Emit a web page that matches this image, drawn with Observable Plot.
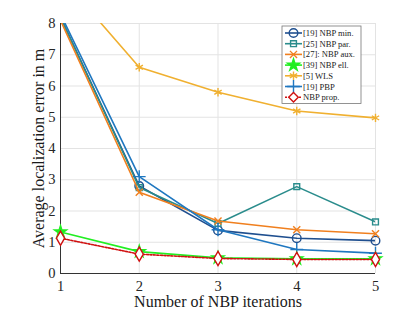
<!DOCTYPE html>
<html><head><meta charset="utf-8">
<script src="https://cdn.jsdelivr.net/npm/d3@7"></script>
<script src="https://cdn.jsdelivr.net/npm/@observablehq/plot@0.6"></script>
<style>
body{margin:0;background:#fff;}
#wrap{position:relative;width:415px;height:312px;}
#legend{position:absolute;left:0;top:0;}
</style></head><body><div id="wrap"></div>
<script>
const iterations = [1, 2, 3, 4, 5];
const seriesNames = ["[19] NBP min.", "[25] NBP par.", "[27]: NBP aux.", "[39] NBP ell.", "[5] WLS", "[19] PBP", "NBP prop."];
const nbpMin  = [8.2, 2.80, 1.38, 1.13, 1.05];
const nbpPar  = [8.2, 2.75, 1.60, 2.78, 1.65];
const nbpAux  = [8.1, 2.60, 1.68, 1.40, 1.27];
const nbpEll  = [1.33, 0.70, 0.50, 0.47, 0.47];
const wls     = [9.5, 6.60, 5.80, 5.20, 4.98];
const pbp     = [8.3, 3.10, 1.40, 0.77, 0.65];
const nbpProp = [1.13, 0.62, 0.48, 0.45, 0.45];
const yTicks = [0, 1, 2, 3, 4, 5, 6, 7, 8];
const xLabel = "Number of NBP iterations";
const yLabel = "Average localization error in m";

const styles = [
  {color: "#1f4f8f", symbol: "circle", dash: null, fill: "none", r: 4.3},
  {color: "#2a8c8c", symbol: "square", dash: null, fill: "none", r: 3.3},
  {color: "#f07f1e", symbol: "times", dash: null, fill: "none", r: 3.3},
  {color: "#22ee22", symbol: "star", dash: null, fill: "#22ee22", r: 3.8},
  {color: "#f0b030", symbol: "asterisk", dash: null, fill: "none", r: 4},
  {color: "#1f77c0", symbol: "plus", dash: null, fill: "none", r: 4.2},
  {color: "#d01010", symbol: "diamond", dash: "2,1.5", fill: "white", r: 4.3}
];
const allValues = [nbpMin, nbpPar, nbpAux, nbpEll, wls, pbp, nbpProp];
const data = allValues.map((vals, i) => iterations.map((x, j) => ({x, y: vals[j], s: seriesNames[i]})));

const serif = "'Liberation Serif', 'Times New Roman', serif";
const marks = [
  Plot.gridX(iterations, {stroke: "#e3e3e3", strokeOpacity: 1}),
  Plot.gridY(yTicks, {stroke: "#e3e3e3", strokeOpacity: 1}),
  Plot.ruleX([1], {stroke: "#333"}),
  Plot.ruleY([0], {stroke: "#333"}),
  Plot.axisX(iterations, {tickSize: 0, tickPadding: 7, fontSize: 14.5, label: null}),
  Plot.axisY(yTicks, {tickSize: 0, tickPadding: 5, fontSize: 14.5, label: null}),
  Plot.text([xLabel], {frameAnchor: "bottom", dy: 33, fontSize: 16, fill: "#1a1a1a", text: d => d}),
  Plot.text([yLabel], {frameAnchor: "left", textAnchor: "middle", dx: -22, rotate: -90, fontSize: 16, fill: "#1a1a1a", text: d => d})
];
const order = [4, 0, 1, 2, 5, 3, 6];
for (const i of order) {
  const st = styles[i];
  marks.push(Plot.line(data[i], {x: "x", y: "y", stroke: st.color, strokeWidth: 1.6, strokeDasharray: st.dash, clip: true}));
  marks.push(Plot.dot(data[i].filter(d => d.y <= 8), {x: "x", y: "y", symbol: () => st.symbol, stroke: st.color, fill: st.fill, r: st.r, strokeWidth: 1.4}));
}

const chart = Plot.plot({
  width: 415, height: 312,
  marginLeft: 60, marginRight: 40, marginTop: 23, marginBottom: 39,
  style: {fontFamily: serif, color: "#262626", background: "white", overflow: "visible"},
  x: {domain: [1, 5]},
  y: {domain: [0, 8]},
  symbol: {type: "identity"},
  marks
});
document.getElementById("wrap").appendChild(chart);

// legend
const lx = 282, ly = 26, lw = 79, rowH = 10.7;
const svg = d3.select("#wrap").append("svg").attr("id", "legend").attr("width", 415).attr("height", 312);
svg.append("rect").attr("x", lx).attr("y", ly).attr("width", lw).attr("height", seriesNames.length * rowH + 2.5)
  .attr("fill", "white").attr("stroke", "#777").attr("stroke-width", 0.8);
const symMap = {circle: d3.symbolCircle, square: d3.symbolSquare, times: d3.symbolTimes, star: d3.symbolStar, asterisk: d3.symbolAsterisk, plus: d3.symbolPlus, diamond: d3.symbolDiamond2};
seriesNames.forEach((name, i) => {
  const st = styles[i];
  const cy = ly + 7 + i * rowH;
  const g = svg.append("g");
  g.append("line").attr("x1", lx + 3).attr("x2", lx + 20).attr("y1", cy).attr("y2", cy)
    .attr("stroke", st.color).attr("stroke-width", 1.6).attr("stroke-dasharray", st.dash);
  const size = Math.PI * st.r * st.r;
  g.append("path").attr("d", d3.symbol(symMap[st.symbol], size)()).attr("transform", `translate(${lx + 11.5},${cy})`)
    .attr("stroke", st.color).attr("fill", st.fill).attr("stroke-width", 1.4);
  g.append("text").attr("x", lx + 21).attr("y", cy).attr("dy", "0.35em")
    .attr("font-family", serif).attr("font-size", 8.6).attr("fill", "#222").text(name);
});
</script></body></html>
